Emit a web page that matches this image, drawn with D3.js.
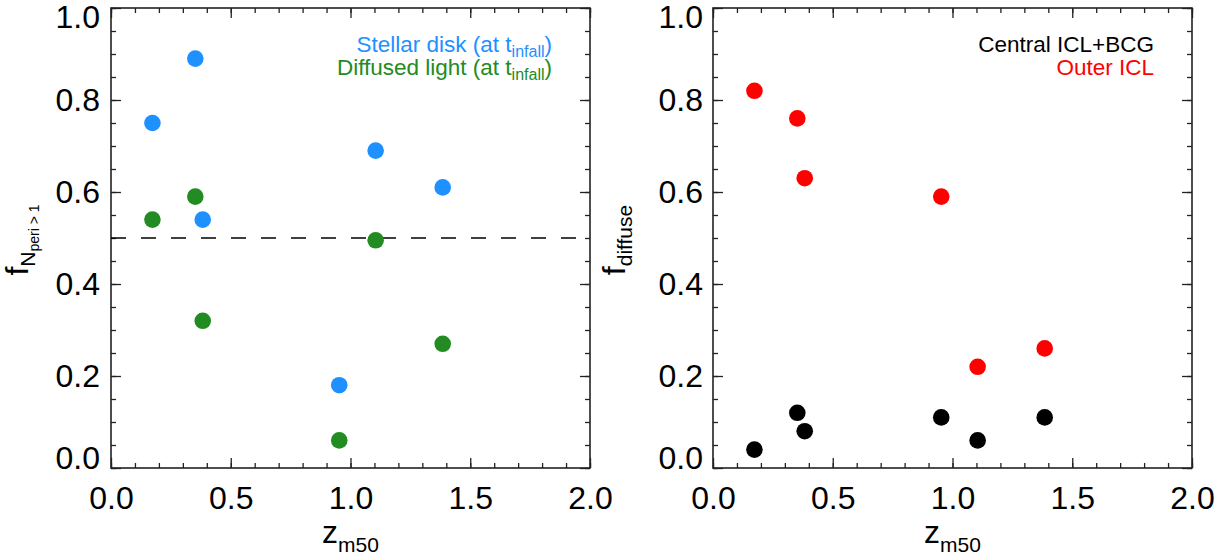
<!DOCTYPE html>
<html>
<head>
<meta charset="utf-8">
<script src="https://cdn.jsdelivr.net/npm/d3@7"></script>
<style>
  body { margin: 0; background: #fff; }
  svg { display: block; font-family: "Liberation Sans", Arial, sans-serif; }
</style>
</head>
<body>
<svg id="drawing_region"></svg>
<script>
// redshift at which 50% of the mass was assembled (same clusters in both panels)
const zm50 = [0.173, 0.352, 0.383, 0.953, 1.105, 1.385];

// left panel
const stellarDisk = [0.75, 0.89, 0.54, 0.18, 0.69, 0.61];
const diffusedLight = [0.54, 0.59, 0.32, 0.06, 0.495, 0.27];

// right panel
const centralIclBcg = [0.04, 0.12, 0.08, 0.11, 0.06, 0.11];
const outerIcl = [0.82, 0.76, 0.63, 0.59, 0.22, 0.26];

const xMajorTicks = [0.0, 0.5, 1.0, 1.5, 2.0];
const yMajorTicks = [0.0, 0.2, 0.4, 0.6, 0.8, 1.0];

const svg = d3.select('#drawing_region')
    .attr('width', 1231)
    .attr('height', 558);

class ScatterPanel {
    constructor (config) {
        this.config = config;
        this.init();
    }

    init() {
        let self = this;
        const c = self.config;

        self.chart = svg.append('g')
            .attr('transform', `translate(${c.left}, ${c.top})`);

        self.inner_width = c.width;
        self.inner_height = c.height;

        self.xscale = d3.scaleLinear().domain([0, 2]).range([0, self.inner_width]);
        self.yscale = d3.scaleLinear().domain([0, 1]).range([self.inner_height, 0]);

        const xminor = d3.range(0, 2.0001, 0.1).map(d => +d.toFixed(2));
        const yminor = d3.range(0, 1.0001, 0.05).map(d => +d.toFixed(2));

        // minor ticks on all four sides (pointing inwards)
        const minor = [
            [d3.axisBottom(self.xscale).tickValues(xminor), `translate(0, ${self.inner_height})`],
            [d3.axisTop(self.xscale).tickValues(xminor), 'translate(0, 0)'],
            [d3.axisLeft(self.yscale).tickValues(yminor), 'translate(0, 0)'],
            [d3.axisRight(self.yscale).tickValues(yminor), `translate(${self.inner_width}, 0)`]
        ];
        minor.forEach(([ax, tr]) => {
            const g = self.chart.append('g')
                .attr('transform', tr)
                .call(ax.tickSize(-5).tickFormat(''));
            g.select('.domain').remove();
        });

        // major ticks with labels on bottom / left
        self.xaxis_group = self.chart.append('g')
            .attr('transform', `translate(0, ${self.inner_height})`)
            .call(d3.axisBottom(self.xscale)
                .tickValues(xMajorTicks)
                .tickSize(-10)
                .tickPadding(18)
                .tickFormat(d3.format('.1f')));

        self.yaxis_group = self.chart.append('g')
            .call(d3.axisLeft(self.yscale)
                .tickValues(yMajorTicks)
                .tickSize(-10)
                .tickPadding(c.ypad)
                .tickFormat(d3.format('.1f')));

        self.chart.append('g')
            .attr('transform', 'translate(0, 0)')
            .call(d3.axisTop(self.xscale).tickValues(xMajorTicks).tickSize(-10).tickFormat(''))
            .select('.domain').remove();
        self.chart.append('g')
            .attr('transform', `translate(${self.inner_width}, 0)`)
            .call(d3.axisRight(self.yscale).tickValues(yMajorTicks).tickSize(-10).tickFormat(''))
            .select('.domain').remove();

        [self.xaxis_group, self.yaxis_group].forEach(g => {
            g.select('.domain').remove();
            g.selectAll('text')
                .attr('fill', '#000')
                .style('font-size', '32px');
        });
        // keep end labels inside the frame like the original
        self.yaxis_group.selectAll('text')
            .attr('y', d => d === 1 ? 9 : (d === 0 ? -10 : 0));

        self.chart.selectAll('.tick line')
            .attr('stroke', '#222')
            .attr('stroke-width', 1.3);

        // frame
        self.chart.append('rect')
            .attr('x', 0).attr('y', 0)
            .attr('width', self.inner_width)
            .attr('height', self.inner_height)
            .attr('fill', 'none')
            .attr('stroke', '#222')
            .attr('stroke-width', 1.6);

        // x label
        const xl = self.chart.append('text')
            .attr('x', self.inner_width / 2)
            .attr('y', self.inner_height + 75)
            .attr('text-anchor', 'middle')
            .style('font-size', '32px');
        xl.append('tspan').text('z');
        xl.append('tspan').attr('dy', 9).style('font-size', '21px').text('m50');

        // y label
        const yl = self.chart.append('text')
            .attr('transform', `translate(${c.ylabelX}, ${self.inner_height / 2 + 2}) rotate(-90)`)
            .attr('text-anchor', 'middle')
            .style('font-size', '32px');
        yl.append('tspan').text('f');
        c.ylabel.forEach(s => {
            yl.append('tspan').attr('dy', s.dy).style('font-size', s.size + 'px').text(s.text);
        });
    }

    hline(value) {
        let self = this;
        self.chart.append('line')
            .attr('x1', self.xscale(0))
            .attr('x2', self.xscale(2))
            .attr('y1', self.yscale(value))
            .attr('y2', self.yscale(value))
            .attr('stroke', '#000')
            .attr('stroke-width', 1.5)
            .attr('stroke-dasharray', '15,15');
    }

    points(values, color) {
        let self = this;
        const data = zm50.map((z, i) => ({ z: z, f: values[i] }));
        self.chart.append('g')
            .selectAll('circle')
            .data(data)
            .join('circle')
            .attr('cx', d => self.xscale(d.z))
            .attr('cy', d => self.yscale(d.f))
            .attr('r', 8.3)
            .attr('fill', color);
    }

    legend(entries) {
        let self = this;
        entries.forEach((e, i) => {
            const t = self.chart.append('text')
                .attr('x', self.inner_width - 38)
                .attr('y', 44 + i * 23)
                .attr('text-anchor', 'end')
                .attr('fill', e.color)
                .style('font-size', '22.5px');
            t.append('tspan').text(e.text);
            if (e.sub) {
                t.append('tspan').attr('dy', 5).style('font-size', '16px').text(e.sub);
                t.append('tspan').attr('dy', -5).text(e.after);
            }
        });
    }
}

const left = new ScatterPanel({
    left: 111, top: 8, width: 479, height: 460, ypad: 11, ylabelX: -83,
    ylabel: [
        { text: 'N', size: 21, dy: 7 },
        { text: 'peri > 1', size: 14, dy: 4 }
    ]
});
left.hline(0.5);
left.points(stellarDisk, '#1e90ff');
left.points(diffusedLight, '#228b22');
left.legend([
    { text: 'Stellar disk (at t', sub: 'infall', after: ')', color: '#1e90ff' },
    { text: 'Diffused light (at t', sub: 'infall', after: ')', color: '#228b22' }
]);

const right = new ScatterPanel({
    left: 713, top: 8, width: 479, height: 460, ypad: 10, ylabelX: -88,
    ylabel: [
        { text: 'diffuse', size: 21, dy: 7 }
    ]
});
right.points(outerIcl, '#ff0000');
right.points(centralIclBcg, '#000000');
right.legend([
    { text: 'Central ICL+BCG', color: '#000000' },
    { text: 'Outer ICL', color: '#ff0000' }
]);
</script>
</body>
</html>
